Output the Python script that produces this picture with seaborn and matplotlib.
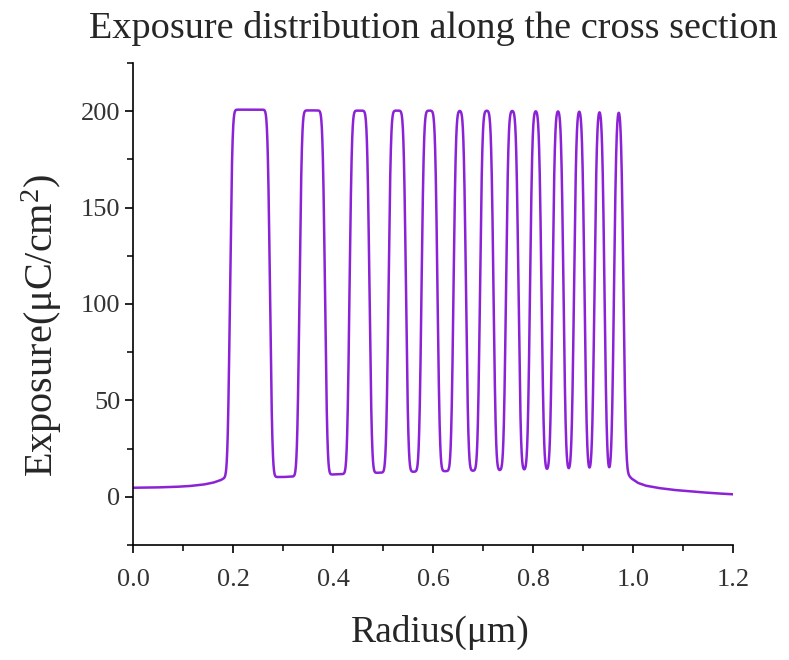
import numpy as np
import pandas as pd
import matplotlib
matplotlib.use("Agg")
import matplotlib.pyplot as plt
import seaborn as sns
from math import erf

# ---- data ----
# radii (um) where the exposure crosses half height (zone edges)
zone_edges = [0.194, 0.274, 0.333, 0.384, 0.433, 0.473, 0.511, 0.546, 0.577,
              0.609, 0.641, 0.666, 0.694, 0.721, 0.746, 0.771, 0.794, 0.817,
              0.839, 0.861, 0.882, 0.903, 0.923, 0.943, 0.962, 0.981]
peak_levels = [200.8, 200.4, 200.3, 200.3, 200.3, 200.3, 200.3, 200.3, 200.4,
               200.6, 200.8, 201.0, 201.5]
valley_levels = [10.3, 11.7, 12.5, 13.0, 13.3, 13.5, 13.7, 13.8, 13.8, 13.8,
                 13.6, 13.0]
left_tail_r = [0.0, 0.04, 0.08, 0.11, 0.14, 0.16, 0.175, 0.185]
left_tail_e = [4.7, 4.8, 5.1, 5.5, 6.3, 7.3, 8.6, 10.0]
right_tail_r = [0.988, 0.997, 1.01, 1.025, 1.05, 1.08, 1.12, 1.16, 1.2]
right_tail_e = [12.0, 9.5, 7.2, 5.8, 4.6, 3.6, 2.7, 1.9, 1.3]
edge_blur_um = 0.0038

x_ticks = [0.0, 0.2, 0.4, 0.6, 0.8, 1.0, 1.2]
y_ticks = [0, 50, 100, 150, 200]

# ---- build the profile from the read values ----
r = np.linspace(0.0, 1.2, 4801)
val_r = [(zone_edges[2 * i + 1] + zone_edges[2 * i + 2]) / 2 for i in range(len(valley_levels))]
floor_r = left_tail_r + val_r + right_tail_r
floor_e = left_tail_e + valley_levels + right_tail_e
floor = np.interp(r, floor_r, floor_e)
verf = np.vectorize(erf)
ind = np.zeros_like(r)
top = np.zeros_like(r)
for k in range(len(peak_levels)):
    a, b = zone_edges[2 * k], zone_edges[2 * k + 1]
    box = 0.5 * (verf((r - a) / (np.sqrt(2) * edge_blur_um)) - verf((r - b) / (np.sqrt(2) * edge_blur_um)))
    ind += box
    top += box * peak_levels[k]
peak_here = np.where(ind > 1e-9, top / np.maximum(ind, 1e-9), 200.0)
exposure = floor + (peak_here - floor) * ind
df = pd.DataFrame({"Radius": r, "Exposure": exposure})

# ---- style ----
sns.set_style("ticks")
plt.rcParams["font.family"] = ["Liberation Serif", "DejaVu Serif"]
plt.rcParams["mathtext.fontset"] = "custom"
plt.rcParams["mathtext.rm"] = "Liberation Serif"
plt.rcParams["mathtext.it"] = "Liberation Serif"
plt.rcParams["mathtext.default"] = "regular"

fig = plt.figure(figsize=(7.89, 6.6), dpi=100)
ax = fig.add_axes([133 / 789, 1 - 545 / 660, 600 / 789, 482 / 660])
sns.lineplot(data=df, x="Radius", y="Exposure", ax=ax, color="#8B22D6",
             linewidth=1.8, estimator=None, sort=False)

ax.set_xlim(0, 1.2)
ax.set_ylim(-25, 225)
ax.set_xticks(x_ticks)
ax.set_xticklabels([f"{v:.1f}" for v in x_ticks])
ax.set_xticks(np.arange(0.1, 1.2, 0.2), minor=True)
ax.set_yticks(y_ticks)
ax.set_yticks([-25, 25, 75, 125, 175, 225], minor=True)
for s in ["top", "right"]:
    ax.spines[s].set_visible(False)
for s in ["left", "bottom"]:
    ax.spines[s].set_linewidth(1.2)
    ax.spines[s].set_color("black")
ax.tick_params(axis="both", which="major", direction="out", length=6, width=1.2,
               labelsize=19, labelcolor="#333333", color="black")
ax.tick_params(axis="x", which="major", pad=11)
ax.tick_params(axis="y", which="major", pad=3)
ax.tick_params(axis="both", which="minor", direction="out", length=4, width=1.1, color="black")

ax.set_xlabel("Radius(\u03bcm)", fontsize=27)
ax.set_ylabel("Exposure(\u03bcC/cm$^{2}$)", fontsize=29)
ax.xaxis.set_label_coords((440 - 133) / 600, (545 - 615) / 482)
ax.yaxis.set_label_coords((64 - 133) / 600, (545 - 325) / 482)
ax.set_title("Exposure distribution along the cross section", fontsize=27.5, pad=18)

fig.savefig("out.png", dpi=100)
